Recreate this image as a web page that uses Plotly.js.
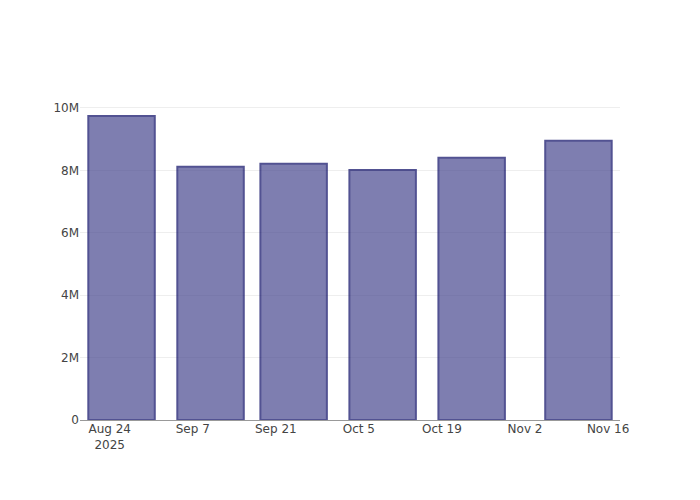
<!DOCTYPE html>
<html>
<head>
<meta charset="utf-8">
<script src="https://cdn.plot.ly/plotly-3.0.1.min.js"></script>
<style>html,body{margin:0;padding:0;background:#fff;}#chart{width:700px;height:500px;}</style>
</head>
<body>
<div id="chart"></div>
<script>
const dates = ["2025-08-26", "2025-09-10", "2025-09-24", "2025-10-09", "2025-10-24", "2025-11-11"];
const values = [9740000, 8110000, 8210000, 8010000, 8400000, 8950000];

const trace = {
  type: 'bar',
  x: dates,
  y: values,
  marker: {
    color: 'rgb(72,72,143)',
    opacity: 0.7,
    line: {color: 'rgb(10,10,100)', width: 2}
  }
};

const layout = {
  width: 700,
  height: 500,
  showlegend: false,
  font: {family: '"DejaVu Sans", sans-serif'},
  xaxis: {
    type: 'date',
    showgrid: false
  },
  yaxis: {
    zeroline: true,
    zerolinecolor: '#999',
    zerolinewidth: 1,
    gridcolor: '#eee'
  }
};

Plotly.newPlot('chart', [trace], layout, {displayModeBar: false});
</script>
</body>
</html>
